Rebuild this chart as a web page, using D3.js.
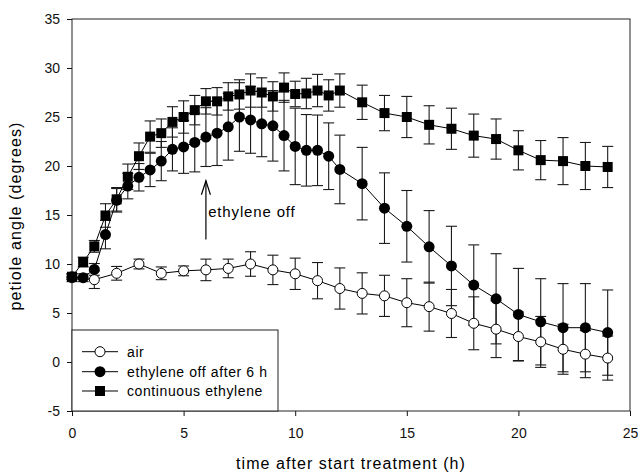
<!DOCTYPE html>
<html>
<head>
<meta charset="utf-8">
<script src="https://cdn.jsdelivr.net/npm/d3@7"></script>
<style>
  body { margin: 0; background: #fff; }
  svg { font-family: "Liberation Sans", Arial, sans-serif; }
</style>
</head>
<body>
<div id="chart"></div>
<script>
// air: hourly
var airTime = [0, 1, 2, 3, 4, 5, 6, 7, 8, 9, 10, 11, 12, 13, 14, 15, 16, 17, 18, 19, 20, 21, 22, 23, 24];
var airMean = [8.6, 8.4, 9.05, 10.0, 9.05, 9.3, 9.4, 9.55, 10.0, 9.4, 9.0, 8.3, 7.5, 7.0, 6.75, 6.05, 5.65, 4.95, 3.95, 3.35, 2.6, 2.05, 1.3, 0.8, 0.4];
var airErr  = [0.4, 0.9, 0.7, 0.5, 0.65, 0.5, 1.1, 0.95, 1.25, 1.5, 1.6, 1.85, 2.1, 2.1, 2.1, 2.45, 2.5, 2.45, 2.7, 2.9, 2.5, 2.6, 2.55, 2.4, 2.25];

// ethylene series: half-hourly up to 12 h, then hourly
var ethTime = [0, 0.5, 1, 1.5, 2, 2.5, 3, 3.5, 4, 4.5, 5, 5.5, 6, 6.5, 7, 7.5, 8, 8.5, 9, 9.5, 10, 10.5, 11, 11.5, 12,
               13, 14, 15, 16, 17, 18, 19, 20, 21, 22, 23, 24];
var offMean = [8.7, 8.6, 9.45, 13.0, 16.5, 17.95, 18.85, 19.6, 20.5, 21.7, 21.95, 22.4, 22.95, 23.35, 24.0, 25.0, 24.7, 24.3, 24.1, 23.1, 22.0, 21.6, 21.6, 21.0, 19.65,
               18.2, 15.7, 13.85, 11.75, 9.8, 7.85, 6.45, 4.85, 4.1, 3.5, 3.5, 3.0];
var offErr  = [0.3, 0.4, 0.6, 1.45, 1.2, 1.3, 1.4, 1.7, 2.0, 2.2, 2.7, 3.0, 3.0, 3.3, 3.4, 3.5, 3.4, 3.35, 3.6, 3.6, 3.9, 3.65, 3.6, 3.4, 3.5,
               3.7, 3.6, 3.65, 3.7, 4.05, 4.1, 4.6, 4.7, 4.4, 4.5, 4.5, 4.35];
var contMean = [8.7, 10.2, 11.8, 14.95, 16.6, 18.9, 21.0, 23.0, 23.35, 24.5, 25.0, 25.7, 26.6, 26.6, 27.1, 27.3, 27.7, 27.5, 27.1, 28.0, 27.35, 27.4, 27.7, 27.2, 27.7,
                26.5, 25.4, 25.0, 24.2, 23.8, 23.1, 22.75, 21.6, 20.6, 20.5, 20.0, 19.9];
var contErr  = [0.3, 0.5, 0.6, 1.2, 1.2, 1.3, 1.35, 1.6, 1.45, 1.55, 1.65, 1.5, 1.3, 1.4, 1.4, 1.5, 1.7, 1.5, 1.5, 1.5, 1.3, 1.55, 1.65, 1.6, 1.7,
                1.75, 1.8, 2.1, 1.95, 2.1, 2.2, 2.05, 2.0, 2.0, 2.4, 2.4, 2.1];

var xTicks = [0, 5, 10, 15, 20, 25];
var yTicks = [-5, 0, 5, 10, 15, 20, 25, 30, 35];
var legendLabels = ["air", "ethylene off after 6 h", "continuous ethylene"];

// build point lists
function pts(t, m, e) {
    return t.map(function(d, i) { return {t: d, v: m[i], e: e[i]}; });
}
var air = pts(airTime, airMean, airErr);
var off = pts(ethTime, offMean, offErr);
var cont = pts(ethTime, contMean, contErr);

var W = 641, H = 474;
var margin = {top: 19, right: 11, bottom: 63, left: 72};
var width = W - margin.left - margin.right,
    height = H - margin.top - margin.bottom;

var svg = d3.select("#chart").append("svg")
    .attr("width", W)
    .attr("height", H);

var g = svg.append("g").attr("transform", "translate(" + margin.left + "," + margin.top + ")");

var x = d3.scaleLinear().domain([0, 25]).range([0, width]);
var y = d3.scaleLinear().domain([-5, 35]).range([height, 0]);

// axes (plain hyphen for negatives, like the original)
var fmt = function(d) { return String(d); };
var xAxis = g.append("g")
    .attr("transform", "translate(0," + height + ")")
    .call(d3.axisBottom(x).tickValues(xTicks).tickFormat(fmt).tickSize(5).tickSizeOuter(0).tickPadding(12));
var yAxis = g.append("g")
    .call(d3.axisLeft(y).tickValues(yTicks).tickFormat(fmt).tickSize(5).tickSizeOuter(0).tickPadding(7));
[xAxis, yAxis].forEach(function(a) {
    a.select(".domain").remove();
    a.selectAll("line").attr("stroke", "#111");
    a.selectAll("text").attr("font-size", 14).attr("fill", "#111")
        .attr("font-family", "'Liberation Sans', Arial, sans-serif");
});

// frame
g.append("rect")
    .attr("x", 0).attr("y", 0)
    .attr("width", width).attr("height", height)
    .attr("fill", "none")
    .attr("stroke", "#222");

// axis titles
svg.append("text")
    .attr("x", 351).attr("y", 469)
    .attr("text-anchor", "middle")
    .attr("font-size", 16)
    .attr("letter-spacing", 1.05)
    .text("time after start treatment (h)");

svg.append("text")
    .attr("transform", "translate(21,216) rotate(-90)")
    .attr("text-anchor", "middle")
    .attr("font-size", 16)
    .attr("letter-spacing", 1.1)
    .text("petiole angle (degrees)");

// error bars first, for all series
var cap = 5.5;
[cont, off, air].forEach(function(s) {
    var eb = g.append("g").attr("stroke", "#1a1a1a").attr("stroke-width", 1.1);
    s.forEach(function(d) {
        var cx = x(d.t), y0 = y(d.v + d.e), y1 = y(d.v - d.e);
        eb.append("line").attr("x1", cx).attr("x2", cx).attr("y1", y0).attr("y2", y1);
        eb.append("line").attr("x1", cx - cap).attr("x2", cx + cap).attr("y1", y0).attr("y2", y0);
        eb.append("line").attr("x1", cx - cap).attr("x2", cx + cap).attr("y1", y1).attr("y2", y1);
    });
});

var line = d3.line()
    .x(function(d) { return x(d.t); })
    .y(function(d) { return y(d.v); });

function drawLine(s) {
    g.append("path").datum(s)
        .attr("d", line)
        .attr("fill", "none")
        .attr("stroke", "#000")
        .attr("stroke-width", 1);
}

// air
drawLine(air);
g.selectAll(".air").data(air).enter().append("circle")
    .attr("cx", function(d) { return x(d.t); })
    .attr("cy", function(d) { return y(d.v); })
    .attr("r", 5)
    .attr("fill", "#fff")
    .attr("stroke", "#000")
    .attr("stroke-width", 1);

// continuous ethylene
drawLine(cont);
g.selectAll(".cont").data(cont).enter().append("rect")
    .attr("x", function(d) { return x(d.t) - 5; })
    .attr("y", function(d) { return y(d.v) - 5; })
    .attr("width", 10).attr("height", 10)
    .attr("fill", "#000");

// ethylene off after 6 h
drawLine(off);
g.selectAll(".off").data(off).enter().append("circle")
    .attr("cx", function(d) { return x(d.t); })
    .attr("cy", function(d) { return y(d.v); })
    .attr("r", 5.5)
    .attr("fill", "#000");

// annotation arrow at 6 h
var ax = x(6), aTop = y(18.5), aBot = y(12.5);
g.append("line").attr("x1", ax).attr("x2", ax).attr("y1", aTop).attr("y2", aBot)
    .attr("stroke", "#000").attr("stroke-width", 1.2);
g.append("path")
    .attr("d", "M" + (ax - 4.5) + "," + (aTop + 14) + "L" + ax + "," + aTop + "L" + (ax + 4.5) + "," + (aTop + 14))
    .attr("fill", "none").attr("stroke", "#000").attr("stroke-width", 1.2);
g.append("text")
    .attr("x", x(6.1)).attr("y", y(14.8))
    .attr("font-size", 15)
    .attr("letter-spacing", 0.85)
    .text("ethylene off");

// legend
var lg = g.append("g");
lg.append("rect")
    .attr("x", 0).attr("y", 311)
    .attr("width", 206).attr("height", height - 311)
    .attr("fill", "#fff")
    .attr("stroke", "#222");
var rows = [332.7, 352.7, 372];
legendLabels.forEach(function(lab, i) {
    var ry = rows[i];
    lg.append("line").attr("x1", 10).attr("x2", 46).attr("y1", ry).attr("y2", ry)
        .attr("stroke", "#000").attr("stroke-width", 1);
    if (i === 0) {
        lg.append("circle").attr("cx", 28).attr("cy", ry).attr("r", 5)
            .attr("fill", "#fff").attr("stroke", "#000");
    } else if (i === 1) {
        lg.append("circle").attr("cx", 28).attr("cy", ry).attr("r", 5.5).attr("fill", "#000");
    } else {
        lg.append("rect").attr("x", 23).attr("y", ry - 5).attr("width", 10).attr("height", 10).attr("fill", "#000");
    }
    lg.append("text")
        .attr("x", 55).attr("y", ry)
        .attr("dy", "0.36em")
        .attr("font-size", 14)
        .attr("letter-spacing", 0.6)
        .text(lab);
});
</script>
</body>
</html>
